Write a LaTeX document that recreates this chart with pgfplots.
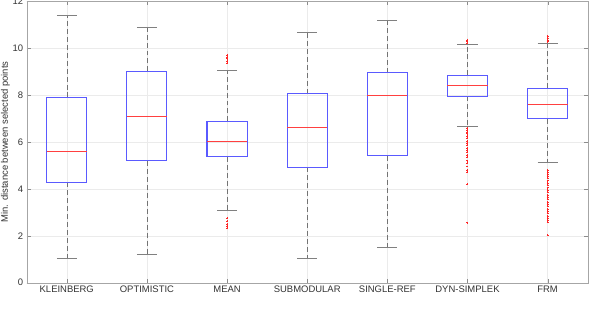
\documentclass[border=0pt]{standalone}
\usepackage{pgfplots}
\pgfplotsset{compat=1.18}
\usepgfplotslibrary{statistics}
\usepackage{fontspec}
\setmainfont{Liberation Sans}
\definecolor{boxblue}{RGB}{90,90,255}
\begin{document}
\begin{tikzpicture}
\useasboundingbox (-26.7bp,-35.3bp) rectangle (565.3bp,282.7bp);
\begin{axis}[
  at={(0,0)}, anchor=south west,
  scale only axis, width=561bp, height=281.7bp,
  xmin=0.5, xmax=7.5, ymin=0, ymax=12,
  xtick={1,2,3,4,5,6,7},
  xticklabels={KLEINBERG,OPTIMISTIC,MEAN,SUBMODULAR,SINGLE-REF,DYN-SIMPLEK,FRM},
  ytick={0,2,4,6,8,10,12},
  ylabel={Min. distance between selected points},
  ylabel style={yshift=-4pt},
  grid=major,
  major grid style={black!8},
  axis line style={black!35},
  tick style={black!45},
  tick align=inside,
  major tick length=4pt,
  ticklabel style={font=\fontsize{9.5}{11}\selectfont, text=black!80},
  label style={font=\fontsize{9.5}{11}\selectfont, text=black!80},
  /pgf/number format/assume math mode=true,
  boxplot/draw direction=y,
  boxplot/box extend=0.5,
  boxplot/whisker extend=0.25,
  boxplot/draw/box/.code={
    \draw[boxblue, line width=1.1pt] (boxplot box cs:\pgfplotsboxplotvalue{lower quartile},0) rectangle (boxplot box cs:\pgfplotsboxplotvalue{upper quartile},1);
  },
  boxplot/draw/median/.code={
    \draw[red!75, line width=0.6pt] (boxplot box cs:\pgfplotsboxplotvalue{median},0) -- (boxplot box cs:\pgfplotsboxplotvalue{median},1);
  },
  boxplot/draw/whisker/.code 2 args={
    \draw[black!55, line width=0.5pt, dash pattern=on 5pt off 3pt] (boxplot cs:#1) -- (boxplot cs:#2);
    \draw[black!50, line width=0.6pt] (boxplot whisker cs:#2,0) -- (boxplot whisker cs:#2,1);
  },
  every axis plot/.append style={draw=boxblue, mark=+, mark options={draw=red!85, solid, line width=0.3pt}, mark size=1pt, forget plot},
]
% KLEINBERG
\addplot[boxplot prepared={draw position=1, lower whisker=1.05, lower quartile=4.27, median=5.58, upper quartile=7.89, upper whisker=11.41}] table[row sep=\\, y index=0] {data\\};
% OPTIMISTIC
\addplot[boxplot prepared={draw position=2, lower whisker=1.19, lower quartile=5.19, median=7.08, upper quartile=9.0, upper whisker=10.9}] table[row sep=\\, y index=0] {data\\};
% MEAN
\addplot[boxplot prepared={draw position=3, lower whisker=3.1, lower quartile=5.36, median=6.03, upper quartile=6.87, upper whisker=9.03}] table[row sep=\\, y index=0] {data\\ 9.37\\ 9.45\\ 9.55\\ 9.62\\ 9.70\\ 2.75\\ 2.62\\ 2.50\\ 2.40\\ 2.32\\};
% SUBMODULAR
\addplot[boxplot prepared={draw position=4, lower whisker=1.05, lower quartile=4.91, median=6.63, upper quartile=8.06, upper whisker=10.65}] table[row sep=\\, y index=0] {data\\};
% SINGLE-REF
\addplot[boxplot prepared={draw position=5, lower whisker=1.49, lower quartile=5.41, median=7.98, upper quartile=8.95, upper whisker=11.19}] table[row sep=\\, y index=0] {data\\};
% DYN-SIMPLEK
\addplot[boxplot prepared={draw position=6, lower whisker=6.66, lower quartile=7.95, median=8.4, upper quartile=8.83, upper whisker=10.17}] table[row sep=\\, y index=0] {data\\ 10.22\\ 10.28\\ 10.35\\ 6.58\\ 6.5\\ 6.42\\ 6.35\\ 6.25\\ 6.15\\ 6.05\\ 5.95\\ 5.85\\ 5.75\\ 5.65\\ 5.55\\ 5.45\\ 5.35\\ 5.2\\ 5.1\\ 4.95\\ 4.8\\ 4.7\\ 4.2\\ 2.56\\};
% FRM
\addplot[boxplot prepared={draw position=7, lower whisker=5.11, lower quartile=6.98, median=7.61, upper quartile=8.28, upper whisker=10.2}] table[row sep=\\, y index=0] {data\\ 10.27\\ 10.35\\ 10.42\\ 10.5\\ 4.81\\ 4.72\\ 4.63\\ 4.55\\ 4.45\\ 4.35\\ 4.25\\ 4.15\\ 4.05\\ 3.95\\ 3.85\\ 3.75\\ 3.65\\ 3.55\\ 3.45\\ 3.35\\ 3.25\\ 3.15\\ 3.05\\ 2.95\\ 2.85\\ 2.75\\ 2.65\\ 2.6\\ 2.03\\};
\end{axis}
\end{tikzpicture}
\end{document}
